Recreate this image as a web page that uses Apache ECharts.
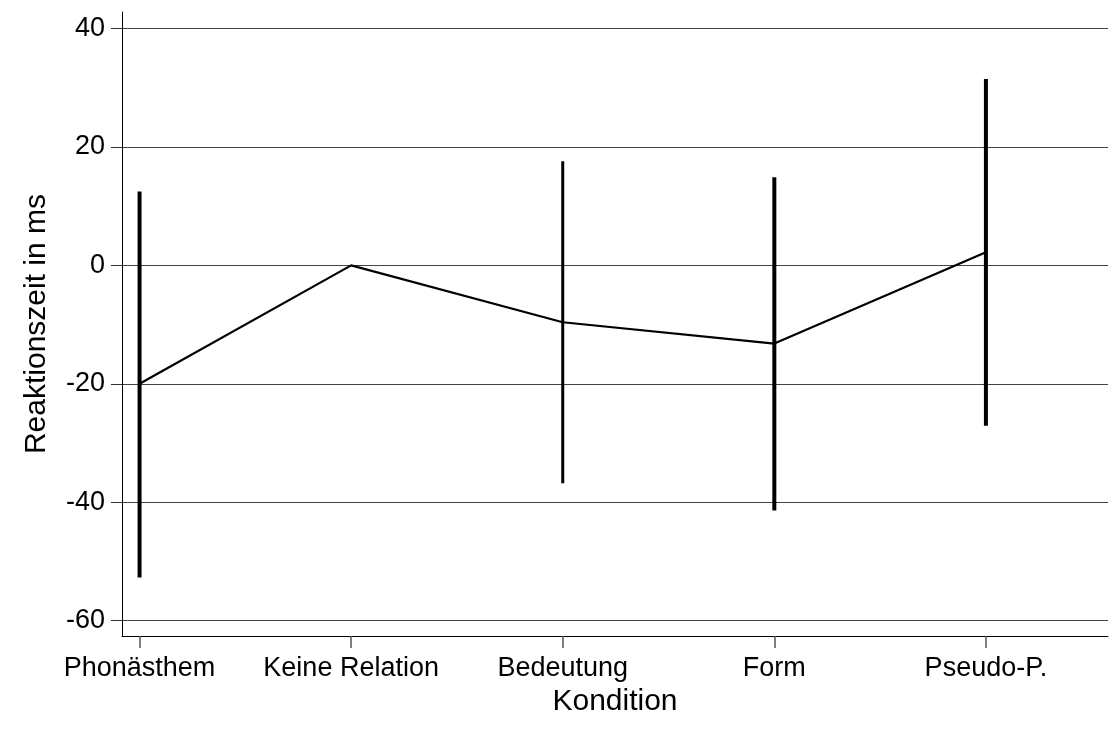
<!DOCTYPE html>
<html>
<head>
<meta charset="utf-8">
<title>Reaktionszeit nach Kondition</title>
<script src="https://cdn.jsdelivr.net/npm/echarts@6/dist/echarts.min.js"></script>
<style>
  html, body { margin: 0; padding: 0; background: #fff; }
  #chart { width: 1112px; height: 731px; }
</style>
</head>
<body>
<div id="chart"></div>
<script>
// Conditions along the x axis
const categories = ['Phonästhem', 'Keine Relation', 'Bedeutung', 'Form', 'Pseudo-P.'];
// Mean reaction time difference (ms) per condition
const means = [-20, 0, -9.6, -13.2, 2.2];
// Upper and lower ends of the confidence interval (null = no interval)
const upper = [12.5, null, 17.6, 14.9, 31.5];
const lower = [-52.7, null, -36.8, -41.4, -27.1];
// Y axis tick values
const yTicks = [-60, -40, -20, 0, 20, 40];

const positions = categories.map((_, i) => i + 1);
const lineData = means.map((v, i) => [positions[i], v]);
const barData = [];
upper.forEach((u, i) => {
  if (u !== null) barData.push([positions[i], lower[i], u]);
});

const font = 'Liberation Sans, Arial, Helvetica, sans-serif';
const chart = echarts.init(document.getElementById('chart'));

chart.setOption({
  animation: false,
  backgroundColor: '#ffffff',
  grid: { left: 122, right: 4, top: 12, bottom: 95, containLabel: false },
  xAxis: {
    type: 'value',
    min: 0.917,
    max: 5.577,
    name: 'Kondition',
    nameLocation: 'middle',
    nameGap: 48,
    nameTextStyle: { fontFamily: font, fontSize: 30, color: '#000' },
    axisLine: { show: true, onZero: false, lineStyle: { color: '#000', width: 1 } },
    axisTick: { show: true, length: 12, customValues: positions, lineStyle: { color: '#555', width: 1.5 } },
    axisLabel: {
      show: true,
      margin: 19,
      customValues: positions,
      fontFamily: font, fontSize: 27, color: '#000',
      formatter: v => categories[Math.round(v) - 1] || ''
    },
    splitLine: { show: false }
  },
  yAxis: {
    type: 'value',
    min: -62.6,
    max: 42.8,
    name: 'Reaktionszeit in ms',
    nameLocation: 'middle',
    nameGap: 70,
    nameTextStyle: { fontFamily: font, fontSize: 30, color: '#000' },
    axisLine: { show: true, lineStyle: { color: '#000', width: 1 } },
    axisTick: { show: true, length: 11, customValues: yTicks, lineStyle: { color: '#333', width: 1 } },
    axisLabel: {
      show: true,
      margin: 17,
      customValues: yTicks,
      fontFamily: font, fontSize: 27, color: '#000'
    },
    splitLine: { show: true, lineStyle: { color: '#444', width: 1 } }
  },
  series: [
    {
      type: 'custom',
      name: 'Konfidenzintervall',
      data: barData,
      z: 3,
      renderItem: function (params, api) {
        const x = api.value(0);
        const p1 = api.coord([x, api.value(1)]);
        const p2 = api.coord([x, api.value(2)]);
        const w = Math.round(x) === 3 ? 3 : 4;
        return {
          type: 'line',
          shape: { x1: p1[0], y1: p1[1], x2: p2[0], y2: p2[1] },
          style: { stroke: '#000', lineWidth: w, lineCap: 'butt' }
        };
      }
    },
    {
      type: 'line',
      name: 'Mittelwert',
      data: lineData,
      showSymbol: false,
      symbol: 'none',
      z: 4,
      lineStyle: { color: '#000', width: 2.2 }
    }
  ]
});
</script>
</body>
</html>
